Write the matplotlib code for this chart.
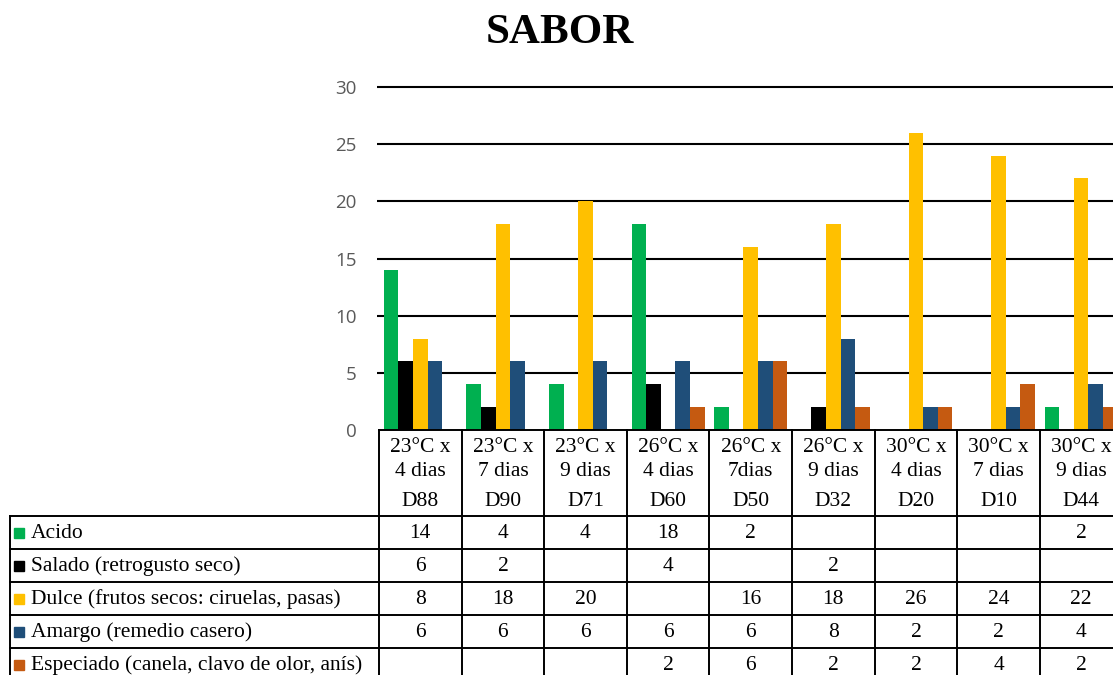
import numpy as np
import matplotlib; matplotlib.use("Agg")
import matplotlib.pyplot as plt

conds = ["23°C x\n4 dias", "23°C x\n7 dias", "23°C x\n9 dias", "26°C x\n4 dias", "26°C x\n7dias",
         "26°C x\n9 dias", "30°C x\n4 dias", "30°C x\n7 dias", "30°C x\n9 dias"]
codes = ["D88", "D90", "D71", "D60", "D50", "D32", "D20", "D10", "D44"]
series = ["Acido", "Salado (retrogusto seco)", "Dulce (frutos secos: ciruelas, pasas)",
          "Amargo (remedio casero)", "Especiado (canela, clavo de olor, anís)"]
acido = [14, 4, 4, 18, 2, None, None, None, 2]
salado = [6, 2, None, 4, None, 2, None, None, None]
dulce = [8, 18, 20, None, 16, 18, 26, 24, 22]
amargo = [6, 6, 6, 6, 6, 8, 2, 2, 4]
especiado = [None, None, None, 2, 6, 2, 2, 4, 2]
values = [acido, salado, dulce, amargo, especiado]
colors = ["#00B050", "#000000", "#FFC000", "#1F4E79", "#C55A11"]

W, H = 1113, 675
left, catw, zero_y, top_y = 379, 82.6, 430, 87
serif = "Liberation Serif"

fig = plt.figure(figsize=(W / 100, H / 100), dpi=100)
ax = fig.add_axes([left / W, (H - zero_y) / H, len(conds) * catw / W, (zero_y - top_y) / H])
x = np.arange(len(conds)) + 0.5
bw = 0.177
for j, (vals, c) in enumerate(zip(values, colors)):
    v = [np.nan if a is None else a for a in vals]
    ax.bar(x + (j - 2) * bw, v, width=bw, color=c, zorder=3)
ax.set_xlim(0, len(conds))
ax.set_ylim(0, 30)
ax.set_yticks(range(0, 31, 5))
ax.hlines(range(5, 31, 5), -0.03, len(conds), color="black", lw=1.5, clip_on=False, zorder=1)
ax.set_xticks([])
for s in ax.spines.values():
    s.set_visible(False)
ax.tick_params(axis="y", length=0, pad=16, labelsize=13.5, labelcolor="#595959")
for t in ax.get_yticklabels():
    t.set_fontfamily("Open Sans")

fig.text(0.503, 1 - 33 / H, "SABOR", ha="center", va="center", fontsize=31,
         fontweight="bold", family=serif)

# data table below the plot, in pixel coordinates
tab = fig.add_axes([0, 0, 1, 1])
tab.set_xlim(0, W); tab.set_ylim(H, 0); tab.axis("off")
rows = [516, 549, 582, 615, 648, 681]
colx = [left + i * catw for i in range(len(conds) + 1)]
lw = 1.4
tab.plot([left, W], [zero_y, zero_y], color="black", lw=lw)
for y in rows:
    tab.plot([10, W], [y, y], color="black", lw=lw)
for cx in colx:
    tab.plot([cx, cx], [zero_y, H], color="black", lw=lw)
tab.plot([10, 10], [rows[0], H], color="black", lw=lw)
fs = 15.5
for i, (c, d) in enumerate(zip(conds, codes)):
    cx = left + (i + 0.5) * catw
    l1, l2 = c.split("\n")
    tab.text(cx, 447, l1, ha="center", va="center", fontsize=fs, family=serif)
    tab.text(cx, 471, l2, ha="center", va="center", fontsize=fs, family=serif)
    tab.text(cx, 502, d, ha="center", va="center", fontsize=fs, family=serif)
for r, (name, vals, c) in enumerate(zip(series, values, colors)):
    yc = (rows[r] + rows[r + 1]) / 2
    tab.add_patch(plt.Rectangle((14, yc - 5), 10, 10, color=c))
    tab.text(31, yc + 1, name, ha="left", va="center", fontsize=fs, family=serif)
    for i, v in enumerate(vals):
        if v is not None:
            tab.text(left + (i + 0.5) * catw, yc + 1, str(v), ha="center", va="center",
                     fontsize=fs, family=serif)

fig.savefig("out.png", dpi=100)
